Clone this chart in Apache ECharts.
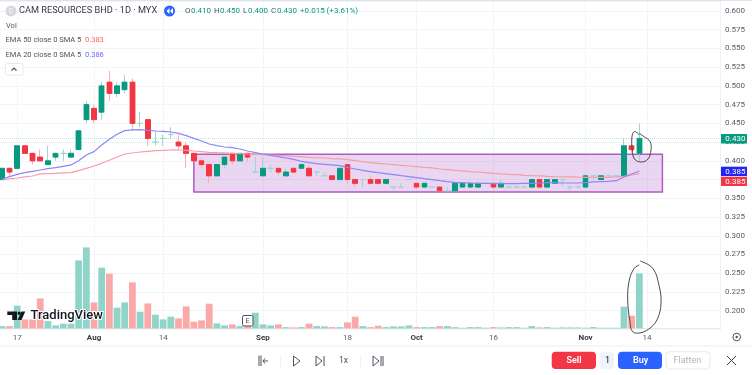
<!DOCTYPE html>
<html><head><meta charset="utf-8">
<style>html,body{margin:0;padding:0;background:#fff;overflow:hidden;width:752px;height:375px}#c{width:754px;height:375px;margin-left:-2px}</style>
<script src="https://cdn.jsdelivr.net/npm/echarts@6/dist/echarts.min.js"></script>
</head><body><div id="c"></div>
<script>
const categories = ['','','17','','','','','','','','','','Aug','','','','','','','','','14','','','','','','','','','','','','','Sep','','','','','','','','','','','18','','','','','','','','','Oct','','','','','','','','','','16','','','','','','','','','','','','Nov','','','','','','','','14','','','','','','','','',''];
const opens  = [.375,.39,.39,.42,.41,.405,.395,.405,.41,.405,.415,.455,.47,.465,.505,.49,.495,.505,.45,.455,.425,.43,.435,.425,.42,.41,.40,.395,.38,.395,.41,.40,.41,.385,.38,.39,.39,.38,.39,.39,.39,.385,.38,.38,.375,.395,.375,.375,.375,.375,.37,.365,.365,.375,.37,.365,.365,.365,.36,.36,.365,.365,.365,.37,.37,.365,.365,.365,.365,.365,.375,.365,.37,.375,.365,.365,.365,.38,.375,.38,.38,.38,.42,.41];
const closes = [.39,.385,.42,.41,.40,.40,.40,.41,.41,.41,.44,.475,.455,.50,.49,.50,.505,.45,.45,.43,.425,.43,.435,.42,.41,.40,.395,.38,.395,.405,.40,.41,.405,.385,.39,.39,.385,.385,.385,.395,.38,.385,.38,.375,.39,.375,.37,.375,.37,.37,.375,.365,.365,.375,.365,.37,.365,.36,.36,.37,.37,.37,.37,.37,.365,.37,.365,.365,.365,.375,.365,.375,.375,.375,.365,.365,.38,.38,.38,.38,.38,.42,.415,.43];
const lows   = [.375,.38,.39,.41,.395,.40,.395,.40,.40,.405,.415,.45,.45,.455,.48,.485,.49,.44,.445,.42,.42,.42,.43,.415,.39,.40,.39,.37,.38,.39,.395,.40,.40,.385,.38,.385,.38,.38,.385,.39,.38,.38,.38,.375,.375,.37,.365,.365,.37,.37,.37,.36,.365,.375,.365,.365,.365,.36,.36,.36,.365,.365,.365,.37,.365,.365,.365,.365,.365,.365,.365,.365,.37,.365,.36,.365,.365,.375,.375,.38,.38,.38,.41,.40];
const highs  = [.39,.39,.42,.42,.41,.415,.42,.41,.415,.415,.44,.48,.475,.505,.52,.505,.515,.51,.465,.455,.44,.435,.445,.435,.425,.41,.405,.395,.395,.405,.41,.41,.41,.405,.405,.395,.39,.39,.39,.395,.395,.385,.385,.38,.39,.395,.375,.375,.38,.375,.375,.365,.37,.375,.37,.37,.365,.365,.365,.37,.37,.37,.37,.37,.37,.375,.365,.365,.365,.375,.375,.375,.375,.375,.365,.365,.38,.38,.38,.38,.38,.43,.42,.45];
const volumes = [2.3,2.3,22.7,9,9,30,7.3,3,4.7,4.7,68,81,26,60.7,54.7,20.7,26,46,16.7,25,13.7,9,11.7,10,22,6.7,8,24.7,5,3,4,2.3,2.5,15.7,4,3,4,1.3,1,1.3,4.7,2.3,2,1.3,1.3,6,11.7,2.3,1.3,2.7,1.3,2,2,3,1.3,1.3,1.3,2.3,2.3,1.3,.7,1.3,1.3,.7,1.3,1,1.3,1.3,.7,2.3,1,1.3,.7,1,1,1,.7,1.3,.7,.7,.7,21.7,12.7,55];
const ema20 = [.3753,.3789,.3820,.3842,.3860,.3878,.3896,.3909,.3927,.3945,.4002,.4078,.4123,.4212,.4287,.4354,.4403,.4412,.4416,.4407,.4398,.4394,.4385,.4367,.4336,.4300,.4265,.4225,.4203,.4185,.4176,.4158,.4131,.4109,.4091,.4074,.4056,.4038,.4020,.3994,.3976,.3962,.3954,.3945,.3936,.3913,.3891,.3873,.3856,.3842,.3829,.3816,.3802,.3789,.3776,.3762,.3749,.3735,.3722,.3713,.3709,.3704,.3700,.3698,.3695,.3695,.3695,.3695,.3700,.3700,.3704,.3709,.3709,.3704,.3704,.3704,.3709,.3718,.3722,.3727,.3735,.3785,.3825,.3865];
const ema50 = [.3744,.3758,.3771,.3785,.3798,.3825,.3829,.3833,.3838,.3842,.3869,.3900,.3931,.3967,.4007,.4051,.4091,.4105,.4118,.4127,.4136,.4140,.4145,.4145,.4140,.4131,.4123,.4114,.4109,.4105,.4100,.4096,.4091,.4087,.4082,.4078,.4074,.4065,.4060,.4056,.4047,.4042,.4038,.4029,.4025,.4016,.4002,.3989,.3976,.3967,.3958,.3949,.3940,.3931,.3922,.3913,.3905,.3891,.3882,.3873,.3865,.3856,.3851,.3842,.3833,.3825,.3820,.3816,.3807,.3802,.3798,.3793,.3789,.3787,.3785,.3782,.3780,.3780,.3780,.3780,.3785,.3793,.3811,.3829];
const lastPrice = 0.43;
const zoneRange = {from: 25, to: 86, top: .4087, bottom: .3584};

const UP='#089981', DOWN='#f23645', UPW='#9ad8cc', DOWNW='#f9b0b4';
const FONT='Roboto, "Noto Sans", sans-serif';
const full = opens.map((o,i)=>[o,closes[i],lows[i],highs[i]]);
const bodies = opens.map((o,i)=>o===closes[i]?'-':[o,closes[i],Math.min(o,closes[i]),Math.max(o,closes[i])]);
const volData = volumes.map((v,i)=>({value:v,itemStyle:{color:closes[i]>=opens[i]?'#8fd4c9':'#faa9a8'}}));

const T=(x,y,text,fill,size,extra)=>({type:'text',z:50,silent:true,x,y,style:Object.assign({text,fill,font:(extra&&extra.weight||'normal')+' '+size+'px '+FONT,textVerticalAlign:'middle',textBaseline:'middle',textAlign:'left'},extra&&extra.style||{})});
const R=(x,y,w,h,fill,stroke,r)=>({type:'rect',z:49,silent:true,shape:{x,y,width:w,height:h,r:r||0},style:{fill:fill,stroke:stroke||null,lineWidth:1}});
const P=(pts,fill)=>({type:'polygon',z:50,silent:true,shape:{points:pts},style:{fill}});
const L=(pts,stroke,w,smooth)=>({type:'polyline',z:50,silent:true,shape:{points:pts,smooth:smooth||0},style:{stroke,lineWidth:w||1,fill:null}});
const G='#50535e';
const graphics=[
 R(0,0,752,1,'#dfe3ee'), R(0,345.5,752,1,'#eef0f4'),
 {type:'circle',z:49,silent:true,shape:{cx:11,cy:11,r:5.5},style:{fill:'#d6d8de'}},
 T(8.5,11.2,'C','#fff',7),
 T(19,11,'CAM RESOURCES BHD · 1D · MYX','#363a45',9.2),
 {type:'circle',z:49,silent:true,shape:{cx:169.5,cy:11,r:5.5},style:{fill:'#2962ff'}},
 P([[169.5,8],[169.5,14],[166.5,11]],'#fff'),P([[173,8],[173,14],[170,11]],'#fff'),
 T(185,11,'O',G,8),T(191,11,'0.410',UP,8),
 T(214,11,'H',G,8),T(220,11,'0.450',UP,8),
 T(243,11,'L',G,8),T(248,11,'0.400',UP,8),
 T(271,11,'C',G,8),T(277,11,'0.430',UP,8),
 T(300,11,'+0.015 (+3.61%)',UP,8),
 T(6,25.7,'Vol',G,7.5),
 T(5.5,40,'EMA 50 close 0 SMA 5',G,7.5),T(85,40,'0.383','#f7666e',7.5),
 T(5.5,54.7,'EMA 20 close 0 SMA 5',G,7.5),T(85,54.7,'0.386','#6a6aff',7.5),
 R(5.5,63.5,17.5,11.5,'#fff','#e6e8ee',2),
 L([[11.5,70.5],[14,68],[16.5,70.5]],G,1.2),
 // last-price and EMA labels on the scale
 R(721,134,26,9.5,UP), T(725.3,138.9,'0.430','#fff',8),
 R(721,166.7,26,9.3,'#2323f5'), T(725.3,171.5,'0.385','#fff',8),
 R(721,176.7,26,9.3,DOWN), T(725.3,181.5,'0.385','#fff',8),
 // logo
 P([[7.3,311.5],[17,311.5],[17,320],[12.2,320],[12.2,315],[7.3,315]],'#131722'),
 {type:'circle',z:50,silent:true,shape:{cx:19.2,cy:313.3,r:1.7},style:{fill:'#131722'}},
 P([[21.5,311.5],[25.2,311.5],[21.5,320],[17.6,320]],'#131722'),
 T(30.5,316,'TradingView','#131722',13,{weight:'500',style:{stroke:'#fff',lineWidth:2}}),
 // earnings mark
 R(242.5,315.5,10.5,10.5,'#fff',G,1.5), T(245.5,321,'E',G,7.5),
 // settings
 {type:'circle',z:50,silent:true,shape:{cx:736.7,cy:337,r:3.8},style:{stroke:G,fill:null,lineWidth:1}},
 {type:'circle',z:50,silent:true,shape:{cx:736.7,cy:337,r:1.2},style:{fill:G}},
 // playback bar
 L([[259,355.5],[259,366]],G,1), L([[261,355.5],[261,366]],G,1),
 L([[268,361],[263,361]],G,1), L([[265,358.5],[263,361],[265,363.5]],G,1),
 R(280,355,.5,12,'#e0e3eb'),
 L([[293.5,356],[300,361],[293.5,366],[293.5,356]],G,1),
 L([[316,356],[322,361],[316,366],[316,356]],G,1), L([[324,356],[324,366]],G,1),
 T(339,361,'1x',G,8.5),
 R(360,355,.5,12,'#e0e3eb'),
 L([[373,356],[379,361],[373,366],[373,356]],G,1), L([[381,356],[381,366]],G,1), L([[383,356],[383,366]],G,1),
 // trading buttons
 R(551.7,351.7,44.3,17.3,DOWN,null,4), T(566.5,360.5,'Sell','#fff',9,{weight:'600'}),
 R(599.5,351.7,14.5,17.3,'#f0f3fa',null,4), T(605,360.5,'1','#131722',9),
 R(618,351.7,44,17.3,'#2962ff',null,4), T(633,360.5,'Buy','#fff',9,{weight:'600'}),
 R(666,351.7,44,17.3,'#fff','#e8eaef',4), T(673.5,360.5,'Flatten','#b2b5be',9),
 L([[727,356],[736,365]],'#3a3d46',1), L([[736,356],[727,365]],'#3a3d46',1),
 // hand-drawn loops
 L([[639.3,135],[634.5,131.5],[632,136.5],[632.3,150],[634.5,159],[641,162],[648,159],[651,150],[650,141.5],[644.5,137],[639.5,133.5]],'#4a4a4a',1,.4),
 L([[640,261],[652.7,268.3],[659.3,286.7],[661,303.3],[657.7,318.3],[651,327.3],[641,332.7],[632.7,331.7],[630,321.7],[627.7,300],[629.3,280],[634.3,268.3],[639.3,265]],'#4a4a4a',1,.4)
];

const chart=echarts.init(document.getElementById('c'),null,{renderer:'canvas'});
chart.setOption({
 animation:false,
 backgroundColor:'#fff',
 textStyle:{fontFamily:FONT},
 grid:{left:0,right:32,top:1.64,bottom:45.6,containLabel:false},
 xAxis:{type:'category',data:categories,boundaryGap:true,
  axisLine:{lineStyle:{color:'#e6e8ee'}},axisTick:{show:false},
  axisLabel:{color:'#5a5d68',fontSize:8,margin:5,interval:(i,v)=>v!=='',
   formatter:v=>/^[A-Z]/.test(v)?'{m|'+v+'}':v,rich:{m:{fontWeight:'bold',color:'#363a45',fontSize:8}}},
  splitLine:{show:true,alignWithLabel:true,interval:(i,v)=>v!=='',lineStyle:{color:'#f3f4f6'}}},
 yAxis:[
  {type:'value',position:'right',min:.175,max:.6125,interval:.025,
   axisLine:{show:true,lineStyle:{color:'#eef0f3'}},axisTick:{show:false},
   axisLabel:{color:'#5a5d68',fontSize:8,margin:5,showMinLabel:false,showMaxLabel:false,formatter:v=>v.toFixed(3)},
   splitLine:{lineStyle:{color:'#f3f4f6'}}},
  {type:'value',min:-1,max:326.8,show:false,splitLine:{show:false}}
 ],
 series:[
  {name:'Vol',type:'bar',yAxisIndex:1,data:volData,barWidth:6.8,z:2,silent:true},
  {name:'Wicks',type:'candlestick',data:full,barWidth:6,z:3,silent:true,
   itemStyle:{color:UPW,color0:DOWNW,borderColor:UPW,borderColor0:DOWNW,borderColorDoji:UPW,borderWidth:1},
   markArea:{silent:true,z:1,itemStyle:{color:'rgba(170,90,200,0.25)',borderColor:'#ae5cc4',borderWidth:1.5},
    data:[[{xAxis:zoneRange.from,yAxis:zoneRange.top},{xAxis:zoneRange.to,yAxis:zoneRange.bottom}]]},
   markLine:{silent:true,symbol:'none',z:2,label:{show:false},lineStyle:{color:'#b5e5da',type:'dotted',width:1},data:[{yAxis:lastPrice}]}},
  {name:'Price',type:'candlestick',data:bodies,barWidth:5,z:4,silent:true,
   itemStyle:{color:UP,color0:DOWN,borderColor:UP,borderColor0:DOWN,borderColorDoji:UP,borderWidth:1}},
  {name:'EMA 50',type:'line',data:ema50,showSymbol:false,smooth:false,silent:true,z:5,lineStyle:{color:'#f49ea6',width:1.2}},
  {name:'EMA 20',type:'line',data:ema20,showSymbol:false,smooth:false,silent:true,z:5,lineStyle:{color:'#8a86fb',width:1.2}}
 ],
 graphic:{elements:[{type:'group',x:2,y:0,children:graphics}]}
});
</script></body></html>
